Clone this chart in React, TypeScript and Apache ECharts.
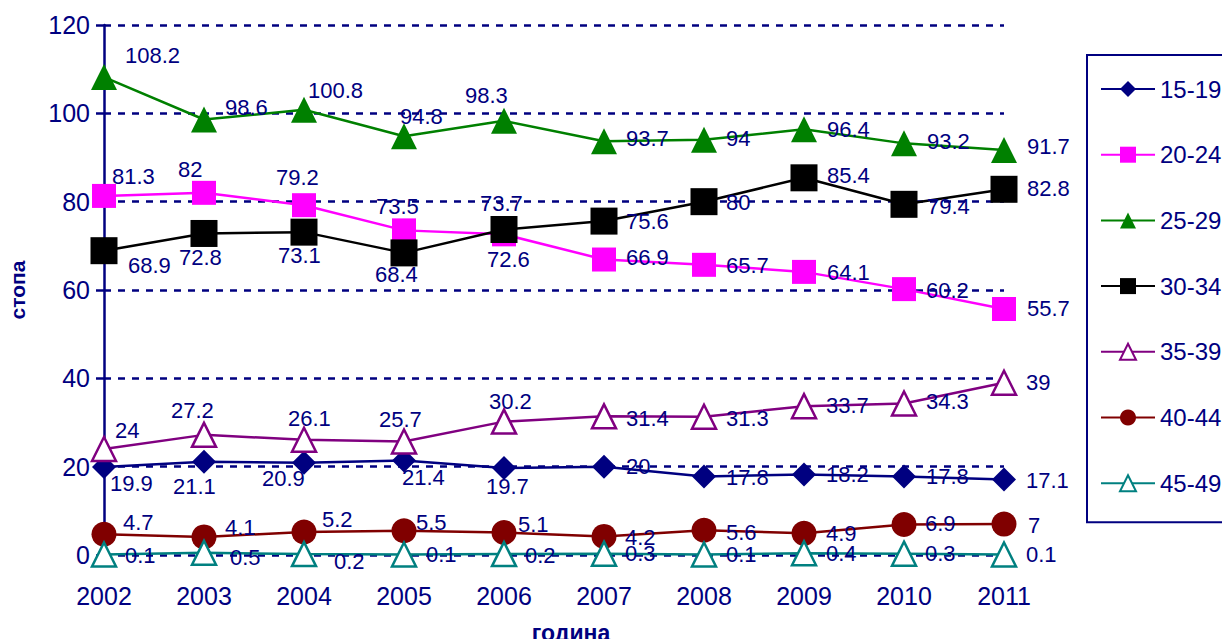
import React, { useEffect, useRef } from "react";
import * as echarts from "echarts";

const years = ["2002", "2003", "2004", "2005", "2006", "2007", "2008", "2009", "2010", "2011"];
const seriesNames = ["15-19", "20-24", "25-29", "30-34", "35-39", "40-44", "45-49"];

const v15_19 = [19.9, 21.1, 20.9, 21.4, 19.7, 20, 17.8, 18.2, 17.8, 17.1];
const v20_24 = [81.3, 82, 79.2, 73.5, 72.6, 66.9, 65.7, 64.1, 60.2, 55.7];
const v25_29 = [108.2, 98.6, 100.8, 94.8, 98.3, 93.7, 94, 96.4, 93.2, 91.7];
const v30_34 = [68.9, 72.8, 73.1, 68.4, 73.7, 75.6, 80, 85.4, 79.4, 82.8];
const v35_39 = [24, 27.2, 26.1, 25.7, 30.2, 31.4, 31.3, 33.7, 34.3, 39];
const v40_44 = [4.7, 4.1, 5.2, 5.5, 5.1, 4.2, 5.6, 4.9, 6.9, 7];
const v45_49 = [0.1, 0.5, 0.2, 0.1, 0.2, 0.3, 0.1, 0.4, 0.3, 0.1];

const yTicks = { min: 0, max: 120, interval: 20 };

// label placement (layout only): [left-edge dx, center dy] relative to the marker
const lab15_19 = [[6, 16], [-31, 25], [-42, 16], [-2, 17], [-18, 19], [22, 0], [22, 1], [22, 0], [22, 0], [22, 1]];
const lab20_24 = [[8, -19], [-26, -23], [-28, -28], [-28, -24], [-17, 25], [22, -2], [22, 1], [23, 1], [22, 1], [23, 0]];
const lab25_29 = [[21, -22], [21, -12], [4, -19], [-4, -20], [-39, -25], [22, -3], [22, -1], [23, 0], [23, -2], [23, -3]];
const lab30_34 = [[24, 15], [-25, 24], [-26, 23], [-29, 22], [-24, -26], [22, 0], [22, 1], [23, -2], [23, 2], [23, -1]];
const lab35_39 = [[11, -19], [-33, -24], [-16, -21], [-25, -22], [-15, -20], [22, 2], [22, 2], [22, -1], [22, -2], [22, 0]];
const lab40_44 = [[19, -12], [21, -9], [18, -13], [12, -8], [14, -8], [21, 1], [22, 2], [22, 0], [21, -1], [24, 1]];
const lab45_49 = [[21, 1], [26, 5], [30, 7], [22, 0], [21, 1], [21, 0], [22, 0], [22, 0], [21, 0], [22, 0]];

const NAVY = "#000080";
const FONT = "'Liberation Sans', Arial, sans-serif";

type Sty = {
  name: string;
  values: number[];
  labels: number[][];
  color: string;
  symbol: string;
  size: number;
  open?: boolean;
};

const styles: Sty[] = [
  { name: seriesNames[0], values: v15_19, labels: lab15_19, color: NAVY, symbol: "diamond", size: 24 },
  { name: seriesNames[1], values: v20_24, labels: lab20_24, color: "#FF00FF", symbol: "rect", size: 24 },
  { name: seriesNames[2], values: v25_29, labels: lab25_29, color: "#008000", symbol: "triangle", size: 26 },
  { name: seriesNames[3], values: v30_34, labels: lab30_34, color: "#000000", symbol: "rect", size: 27 },
  { name: seriesNames[4], values: v35_39, labels: lab35_39, color: "#800080", symbol: "triangle", size: 24, open: true },
  { name: seriesNames[5], values: v40_44, labels: lab40_44, color: "#800000", symbol: "circle", size: 25 },
  { name: seriesNames[6], values: v45_49, labels: lab45_49, color: "#008080", symbol: "triangle", size: 24, open: true },
];

export default function App() {
  const ref = useRef<HTMLDivElement>(null);
  useEffect(() => {
    document.body.style.margin = "0";
    if (!ref.current) return;
    const chart = echarts.init(ref.current, null, { renderer: "svg" });
    const series = styles.map((s) => ({
      name: s.name,
      type: "line",
      data: s.values.map((v, i) => ({
        value: v,
        label: { offset: s.labels[i] },
      })),
      symbol: s.symbol,
      symbolSize: s.size,
      lineStyle: { color: s.color, width: 2.5 },
      itemStyle: s.open
        ? { color: "#ffffff", borderColor: s.color, borderWidth: 2.5 }
        : { color: s.color, borderWidth: 0 },
      label: {
        show: true,
        position: "inside",
        align: "left",
        verticalAlign: "middle",
        color: NAVY,
        fontSize: 22,
        fontFamily: FONT,
      },
      emphasis: { disabled: true },
    }));
    chart.setOption({
      animation: false,
      backgroundColor: "#ffffff",
      textStyle: { fontFamily: FONT },
      grid: { left: 104, right: 218, top: 25, bottom: 84, containLabel: false, outerBoundsMode: "none" },
      legend: {
        orient: "vertical",
        left: 1087,
        top: 55,
        itemWidth: 54,
        itemHeight: 20,
        itemGap: 41.7,
        padding: [22, 200, 27, 13],
        borderColor: NAVY,
        borderWidth: 2,
        textStyle: { color: NAVY, fontSize: 24, fontFamily: FONT, lineHeight: 24, padding: [0, 0, 0, 0] },
        data: seriesNames,
      },
      xAxis: {
        type: "category",
        data: years,
        boundaryGap: false,
        axisLine: { show: false },
        axisTick: { show: false },
        axisLabel: { color: NAVY, fontSize: 25, fontFamily: FONT, margin: 28 },
        name: "година",
        nameLocation: "middle",
        nameGap: 66,
        nameTextStyle: { color: NAVY, fontSize: 23, fontWeight: "bold", fontFamily: FONT, padding: [0, 0, 0, 34] },
      },
      yAxis: {
        type: "value",
        min: yTicks.min,
        max: yTicks.max,
        interval: yTicks.interval,
        axisLine: { show: true, lineStyle: { color: NAVY, width: 2.5 } },
        axisTick: { show: true, length: 8, lineStyle: { color: NAVY, width: 2.5 } },
        axisLabel: { color: NAVY, fontSize: 25, fontFamily: FONT, margin: 14 },
        splitLine: { show: true, lineStyle: { color: NAVY, width: 2.5, type: [7, 7] } },
        name: "стопа",
        nameLocation: "middle",
        nameGap: 76,
        nameRotate: 90,
        nameTextStyle: { color: NAVY, fontSize: 21, fontWeight: "bold", fontFamily: FONT },
      },
      series,
    });
    return () => chart.dispose();
  }, []);
  return <div ref={ref} style={{ width: 1222, height: 639 }} />;
}
